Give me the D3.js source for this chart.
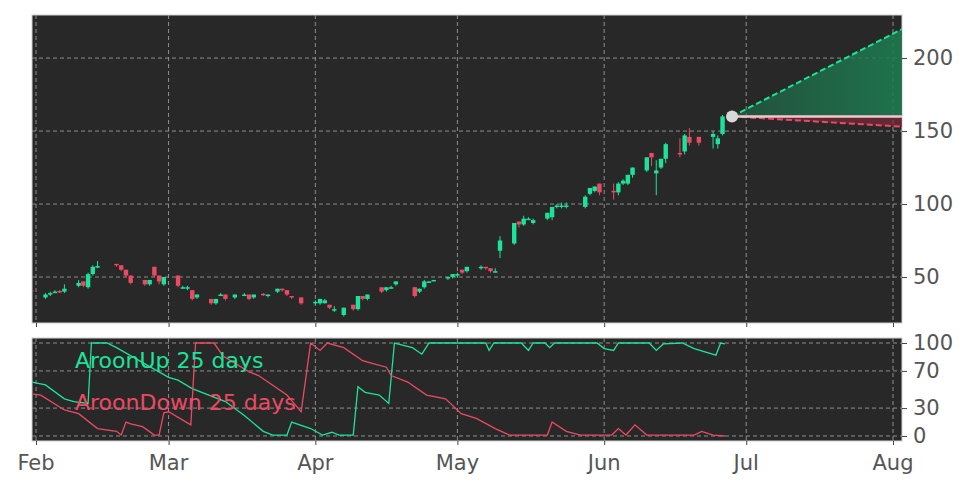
<!DOCTYPE html>
<html><head><meta charset="utf-8">
<script src="https://cdn.jsdelivr.net/npm/d3@7"></script>
<style>body{margin:0;background:#fff}svg{display:block}</style>
</head><body>
<svg id="c" width="972" height="486"></svg>
<script>
// Day offsets from Feb 1 (2022) for each candle
const candleDays = [-1,2,3,4,5,6,9,10,11,12,13,17,18,19,20,23,24,25,26,27,30,31,32,33,34,37,38,39,40,42,44,45,46,48,49,51,52,53,54,56,59,60,61,62,63,65,67,68,69,70,73,74,75,76,80,81,82,83,84,87,88,89,90,91,94,95,96,97,98,101,102,103,104,105,108,109,110,111,112,116,117,118,119,122,123,124,125,126,129,130,131,132,133,136,137,138,140,143,144,145];
const opens  = [41,36,38,40,40.5,40,44,47,43,52,56.5,59,58,55,51,48,45,57,51,45,51,43,43,41,36,35,32,38,38,36,38,38,36,38.5,37,40,42,41,37,36,33,32,32,31,27,24,31,28,37,35,43,41,43,45,43,40,43,47,47,49,50,51,55,54,57,57,56,53,68,73,88,86,90,87,90,91,98,98,98,98,107,109,114,109,108,114,114,120,123,135,121,125,131,135,136,146,146,146,141,148,148];
const closes = [40,38,39,40,40,42,46,44,52,57,57.5,58,55,51,46,45,48,51,47,50,44,43,43,35,38,32,35,38,35,38,38,35,38,38,38,42,41,38,36,32,33,35,34,29,28,29,28,37,35,38,40,43,43,47,37,42,47,47,48,50,52,52,53,57,57,56,54,54,75,87,86,90,90,89,94,98,99,99,99,105,111,112,108,108,114,116,120,125,132,132,123,131,141,134,147,142,142,148,145,160,160];
const highs  = [42,39,40,41,41,45,48,47,53,58,61,59,58,55,51,48,48,57,51,50,51,44,44,41,38,35,35,39,38,38,39,38,38,39,38,42,42,41,37,36,34,35,35,31,30,29,31,37,37,38,41,43,44,47,43,42,48,47,48,50,52,53,55,57,58,57,56,56,78,87,88,92,91,90,94,98,100,101,101,106,111,112,114,114,115,117,120,125,132,135,130,131,142,145,148,152,146,150,147,161,161];
const lows   = [38,35,37,39,39,39,43,43,42,51,56,57,54,50,45,44,44,50,45,44,43,42,41,34,35,31,31,37,34,35,37,34,35,37,36,39,40,37,35,31,31,31,32,28,26,23,27,27,34,34,39,40,42,44,36,39,42,46,47,48,49,50,52,53,55,55,53,53,63,72,84,85,89,86,89,89,97,97,97,97,106,108,106,103,106,113,113,118,122,126,106,124,128,132,134,140,140,138,138,147,147];

// Forecast: start point and end values
const forecastStartDay = 147, forecastEndDay = 183;
const forecastStart = 160, forecastHigh = 220, forecastLow = 153, forecastMid = 160;

// Aroon series (day offset, value)
const aroonUpDays = [-3,2,6,8,11,11.7,15,17,28,30,33,40,44,48,50,53,54,58,60.5,62.5,64,67,68,69.5,72.5,74.5,75.7,79.5,81.5,83,95,95.7,96.7,102.5,104,105,107.5,108.5,109.5,110.5,118.5,120,122,123,129.5,131,132.5,136.5,139,143.6,144.6,145.5];
const aroonUpVals = [60,55,40,37,35,100,100,95,63,60,51,37,22,5,1,1,15,8,1,4,1,1,53,47,44,35,100,95,88,100,100,92,100,100,92,100,100,95,100,100,100,94,92,100,100,92,99,100,94,87,100,99];
const aroonDownDays = [-3,1,6,9,13,17,18,19,20,22.5,25,26,27,28,32.7,33.7,37.6,39.5,45,47,53,56,58,60,61.5,65,69,71,74,75,78.5,82.5,86.5,89.8,93,97,100,108,109,112,115,121.6,123,124.6,126.5,129,139,140.6,143,145.5];
const aroonDownVals = [47,44,28,24,8,5,1,15,13,10,1,1,25,26,12,100,100,86,69,65,44,26,100,92,100,95,81,78,74,65,58,44,40,24,19,8,1,1,15,5,1,1,8,1,12,1,1,5,1,0];

const monthLabels = ["Feb","Mar","Apr","May","Jun","Jul","Aug"];
const priceTicks = [50,100,150,200];
const aroonTicks = [0,30,70,100];

const svg = d3.select("#c");
const base = new Date(2022,1,1);
const dayToDate = d => new Date(base.getTime() + d*86400000);
const X0=32, X1=902;
const x = d3.scaleTime().domain([base, new Date(2022,7,1)]).range([36,893]);
const yP = d3.scaleLinear().domain([18.5,229.5]).range([323,15]);
const yA = d3.scaleLinear().domain([-5.4,105.4]).range([441,338]);
const GREEN="#1de39a", RED="#ec4a63", BG="#282828", GRID="#9a9a9a", TXT="#555";

function panel(top,bottom,y,ticks){
  svg.append("rect").attr("x",X0).attr("y",top).attr("width",X1-X0).attr("height",bottom-top).attr("fill",BG).attr("stroke","#d0d0d0");
  const g=svg.append("g");
  ticks.forEach(t=>g.append("line").attr("x1",X0).attr("x2",X1).attr("y1",y(t)).attr("y2",y(t)).attr("stroke",GRID).attr("stroke-dasharray","4,3").attr("stroke-width",0.9));
  monthLabels.forEach((m,i)=>{const xx=x(new Date(2022,1+i,1));
    g.append("line").attr("x1",xx).attr("x2",xx).attr("y1",top).attr("y2",bottom).attr("stroke",GRID).attr("stroke-dasharray","4,3").attr("stroke-width",0.9);});
  const ax=svg.append("g").attr("transform",`translate(${X1},0)`).call(d3.axisRight(y).tickValues(ticks).tickSize(5).tickPadding(6));
  ax.select(".domain").remove();
  ax.selectAll("line").attr("stroke","#444");
  ax.selectAll("text").attr("fill",TXT).attr("font-size",21).attr("font-family","DejaVu Sans");
  // bottom ticks
  const bx=svg.append("g").attr("transform",`translate(0,${bottom})`).call(d3.axisBottom(x).tickValues(monthLabels.map((m,i)=>new Date(2022,1+i,1))).tickSize(4).tickFormat(""));
  bx.select(".domain").remove(); bx.selectAll("line").attr("stroke","#444");
}
panel(15,323,yP,priceTicks);
panel(338,441,yA,aroonTicks);

svg.append("defs").append("clipPath").attr("id","cp").append("rect").attr("x",X0).attr("y",15).attr("width",X1-X0).attr("height",308);
svg.append("defs").append("clipPath").attr("id","cp2").append("rect").attr("x",X0).attr("y",338).attr("width",X1-X0).attr("height",103);

// candles
const cg=svg.append("g").attr("clip-path","url(#cp)");
candleDays.forEach((d,i)=>{
  const xx=x(dayToDate(d)), o=opens[i], c=closes[i], col=c>=o?GREEN:RED;
  cg.append("line").attr("x1",xx).attr("x2",xx).attr("y1",yP(highs[i])).attr("y2",yP(lows[i])).attr("stroke",col).attr("stroke-width",1);
  const t=yP(Math.max(o,c)), b=yP(Math.min(o,c));
  cg.append("rect").attr("x",xx-2.2).attr("y",t).attr("width",4.4).attr("height",Math.max(b-t,1.5)).attr("fill",col);
});

// forecast cone
const fx0=x(dayToDate(forecastStartDay)), fx1=x(dayToDate(forecastEndDay));
const grad=svg.select("defs").append("linearGradient").attr("id","gg").attr("x1",0).attr("x2",1).attr("y1",0).attr("y2",0);
grad.append("stop").attr("offset","0%").attr("stop-color","#1d7a50").attr("stop-opacity",0.5);
grad.append("stop").attr("offset","100%").attr("stop-color","#1d7a50").attr("stop-opacity",0.9);
cg.append("path").attr("d",`M${fx0},${yP(forecastStart)}L${fx1},${yP(forecastHigh)}L${fx1},${yP(forecastMid)}Z`).attr("fill","url(#gg)");
cg.append("path").attr("d",`M${fx0},${yP(forecastStart)}L${fx1},${yP(forecastMid)}L${fx1},${yP(forecastLow)}Z`).attr("fill","#7a2a3a").attr("opacity",0.7);
cg.append("line").attr("x1",fx0).attr("x2",fx1).attr("y1",yP(forecastStart)).attr("y2",yP(forecastHigh)).attr("stroke",GREEN).attr("stroke-width",2).attr("stroke-dasharray","6,3");
cg.append("line").attr("x1",fx0).attr("x2",fx1).attr("y1",yP(forecastStart)).attr("y2",yP(forecastLow)).attr("stroke",RED).attr("stroke-width",2).attr("stroke-dasharray","6,3");
cg.append("line").attr("x1",fx0).attr("x2",fx1).attr("y1",yP(forecastStart)).attr("y2",yP(forecastMid)).attr("stroke","#f0c8d0").attr("stroke-width",2.5);
cg.append("circle").attr("cx",fx0).attr("cy",yP(forecastStart)).attr("r",6).attr("fill","#d8d8d8");

// aroon
const ag=svg.append("g").attr("clip-path","url(#cp2)");
const line=d3.line().x(d=>x(dayToDate(d[0]))).y(d=>yA(d[1]));
ag.append("path").attr("d",line(aroonUpDays.map((d,i)=>[d,aroonUpVals[i]]))).attr("fill","none").attr("stroke",GREEN).attr("stroke-width",1.3);
ag.append("path").attr("d",line(aroonDownDays.map((d,i)=>[d,aroonDownVals[i]]))).attr("fill","none").attr("stroke",RED).attr("stroke-width",1.3);
svg.append("text").attr("x",75).attr("y",368).text("AroonUp 25 days").attr("fill",GREEN).attr("font-size",22).attr("font-family","DejaVu Sans");
svg.append("text").attr("x",75).attr("y",410).text("AroonDown 25 days").attr("fill",RED).attr("font-size",22).attr("font-family","DejaVu Sans");

// month labels
monthLabels.forEach((m,i)=>svg.append("text").attr("x",x(new Date(2022,1+i,1))).attr("y",470).attr("text-anchor","middle").attr("fill",TXT).attr("font-size",21).attr("font-family","DejaVu Sans").text(m));
</script>
</body></html>
